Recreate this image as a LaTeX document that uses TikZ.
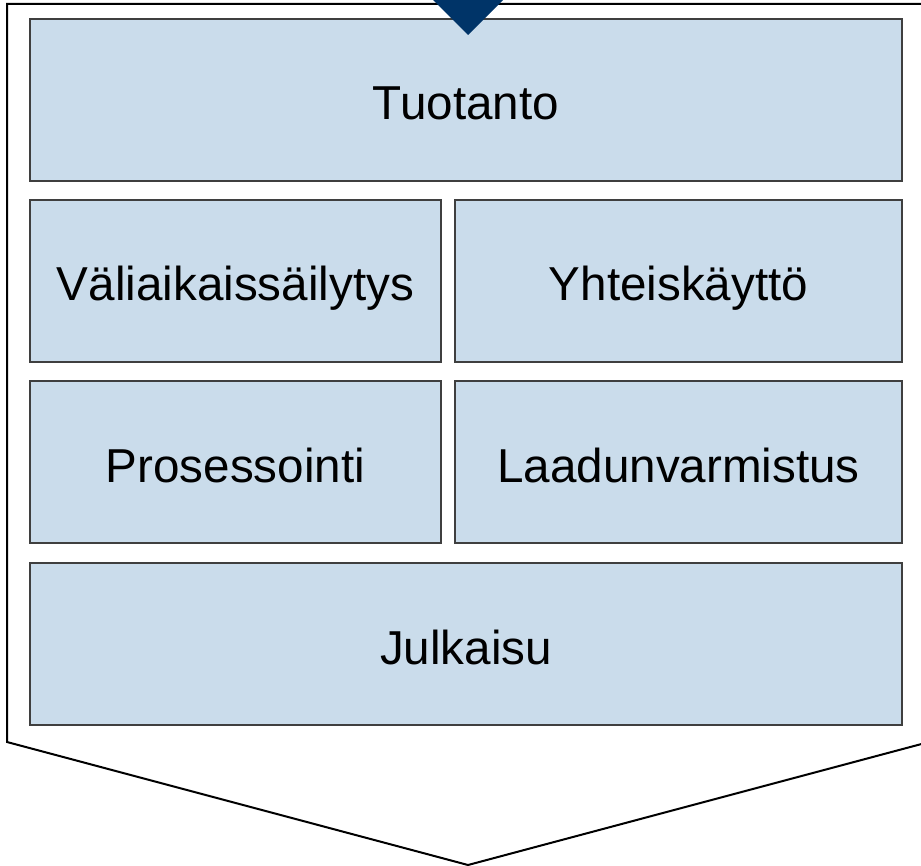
\documentclass[tikz,border=0pt]{standalone}
\usepackage{fontspec}
\setmainfont{Liberation Sans}
\definecolor{boxfill}{HTML}{CADCEB}
\definecolor{boxline}{HTML}{3F3F3F}
\definecolor{darkblue}{HTML}{003468}
\begin{document}
\begin{tikzpicture}[x=1pt,y=-1pt,
  blk/.style={draw=boxline,fill=boxfill,line width=2pt,inner sep=0pt,outer sep=0pt,
    minimum height=162pt,text height=44pt,text depth=4pt,font=\fontsize{47.6}{57}\selectfont},
  wide/.style={blk,minimum width=872pt},
  lefthalf/.style={blk,minimum width=411pt},
  righthalf/.style={blk,minimum width=447pt}]
\useasboundingbox (0,0) rectangle (921,866);
\clip (0,0) rectangle (921,866);
\draw[line width=2pt,black] (929,4) -- (7,4) -- (7,742) -- (468,865) -- (929,742);
\node[wide] (tuotanto) at (466,100) {Tuotanto};
\node[lefthalf] (vali) at (235.5,281) {Väliaikaissäilytys};
\node[righthalf] (yhteis) at (678.5,281) {Yhteiskäyttö};
\node[lefthalf] (proses) at (235.5,462) {Prosessointi};
\node[righthalf] (laadun) at (678.5,462) {Laadunvarmistus};
\node[wide] (julkaisu) at (466,644) {Julkaisu};
\fill[darkblue] (433,0) -- (468,35) -- (503,0) -- (468,-35) -- cycle;
\end{tikzpicture}
\end{document}
